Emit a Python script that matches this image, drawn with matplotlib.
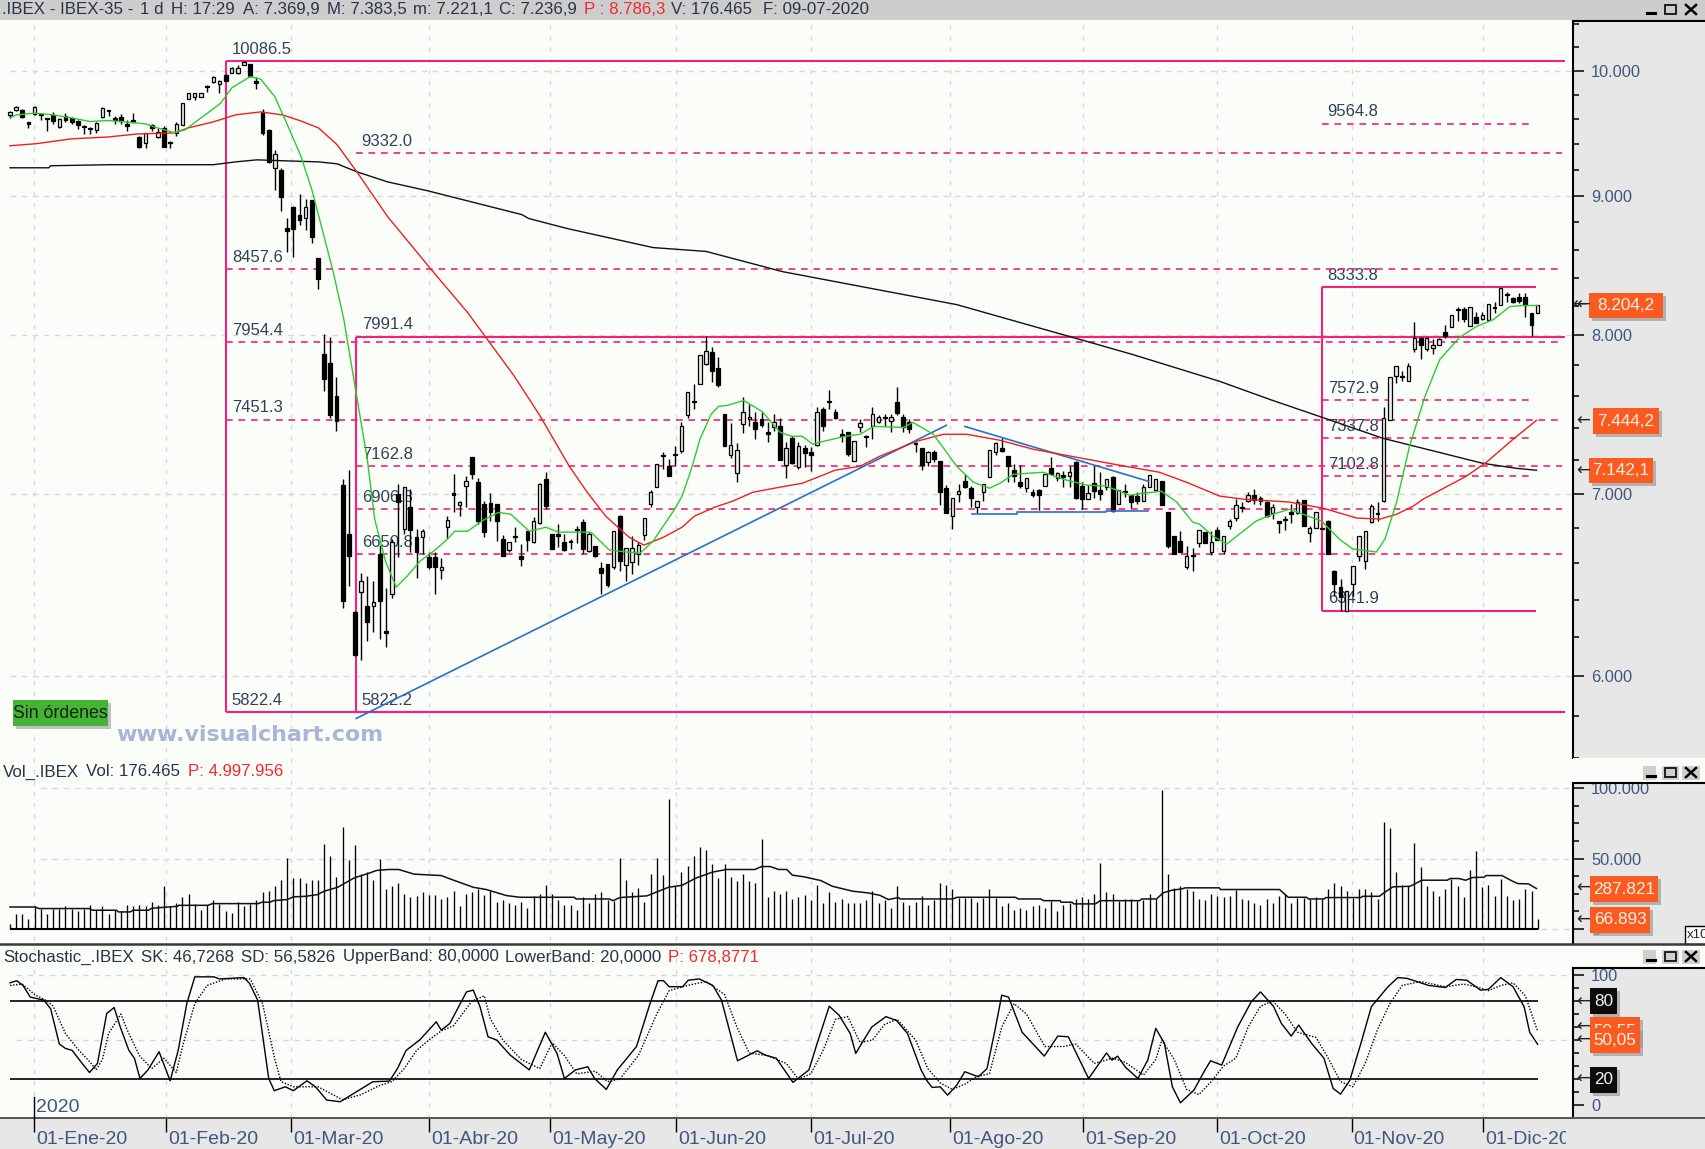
import matplotlib
matplotlib.use('Agg')
import matplotlib.pyplot as plt
from matplotlib.patches import Rectangle
from matplotlib.ticker import NullFormatter

plt.rcParams['font.family'] = ['Liberation Sans', 'DejaVu Sans']

W, H = 1706, 1149

# daily candles
opens = [
    9635,9676,9676,9575,9644,9644,9611,9636,9538,9627,
    9611,9587,9546,9530,9514,9619,9676,9611,9619,9563,
    9595,9458,9411,9555,9458,9530,9419,9490,9555,9767,
    9783,9783,9874,9908,9891,9966,9983,9983,10051,10059,
    9916,9660,9514,9215,9199,8761,8918,8858,8835,8970,
    8536,7878,7818,7598,7050,6765,6335,6442,6366,6366,
    6652,6233,6431,6996,6793,6920,6747,6747,6635,6635,
    6562,6804,7002,6932,7044,7218,7067,6938,6943,6938,
    6736,6674,6753,6640,6781,6719,6828,7085,6765,6765,
    6719,6725,6793,6833,6669,6697,6574,6596,6579,6868,
    6590,6607,6652,6759,6938,7038,7230,7163,7236,7255,
    7477,7566,7675,7812,7885,7780,7484,7230,7121,7421,
    7452,7433,7452,7372,7402,7408,7169,7334,7157,7273,
    7248,7291,7521,7566,7496,7359,7372,7194,7402,7347,
    7408,7433,7470,7440,7560,7470,7433,7304,7273,7188,
    7248,7194,7032,6868,6996,7073,7032,6920,7008,7097,
    7248,7273,7224,7139,7067,7032,7008,7020,7044,7151,
    7091,7109,7103,7188,7044,6967,7061,7020,7038,7097,
    6938,7014,6990,6985,6955,7038,7020,7073,6890,6753,
    6725,6579,6646,6713,6776,6663,6787,6669,6810,6857,
    6920,6955,6990,6973,6950,6885,6840,6851,6890,6885,
    6961,6770,6799,6799,6840,6557,6469,6340,6485,6640,
    6613,6833,6885,6955,7446,7733,7727,7695,7905,7985,
    7905,7912,7938,8025,8059,8183,8183,8066,8127,8114,
    8107,8197,8204,8287,8259,8266,8266,8155,8155]
highs = [
    9668,9709,9684,9579,9709,9644,9611,9660,9611,9652,
    9619,9595,9555,9538,9579,9700,9676,9627,9644,9595,
    9652,9466,9490,9563,9530,9546,9427,9579,9734,9816,
    9816,9816,9883,9958,9924,9975,10033,10050,10088,10059,
    9950,9684,9522,9355,9215,8829,8925,9015,8978,8970,
    8543,8006,7989,7721,7085,7140,6340,6546,6530,6502,
    6702,6463,6736,7055,7038,7026,6793,6793,6663,6663,
    6630,6868,7115,6955,7103,7218,7091,6955,7002,6938,
    6759,6719,6804,6708,6781,6862,7061,7127,6765,6822,
    6765,6736,6810,6851,6776,6697,6607,6596,6781,6874,
    6686,6753,6719,6857,7020,7175,7248,7206,7285,7433,
    7624,7675,7871,7995,7925,7858,7484,7427,7304,7592,
    7547,7496,7502,7433,7484,7458,7310,7347,7310,7291,
    7279,7528,7528,7637,7515,7390,7372,7316,7452,7353,
    7528,7477,7484,7484,7656,7484,7452,7310,7273,7255,
    7261,7194,7050,6973,7055,7115,7044,6955,7055,7261,
    7310,7334,7224,7175,7169,7091,7026,7026,7115,7218,
    7127,7133,7163,7194,7067,7050,7163,7127,7085,7103,
    7020,7055,6990,7008,7055,7109,7085,7073,6890,6753,
    6781,6697,6686,6787,6776,6781,6804,6753,6851,6967,
    6950,7008,7026,6985,6955,6938,6840,6868,6938,6967,
    6961,6810,6890,6799,6845,6562,6513,6447,6585,6753,
    6781,6938,6950,7528,7721,7793,7760,7818,8093,7992,
    7992,7972,7985,8073,8141,8197,8197,8197,8162,8162,
    8217,8231,8329,8301,8266,8294,8294,8155,8204]
lows = [
    9611,9668,9611,9530,9636,9595,9506,9563,9530,9579,
    9563,9522,9482,9482,9490,9611,9627,9563,9563,9506,
    9579,9372,9372,9506,9450,9380,9372,9466,9555,9767,
    9760,9783,9825,9900,9816,9916,9983,9975,10051,9950,
    9849,9474,9253,9046,8888,8585,8550,8783,8746,8651,
    8322,7630,7464,7378,6355,6475,6105,6082,6180,6228,
    6192,6150,6410,6635,6765,6663,6518,6652,6568,6431,
    6513,6736,6890,6868,6920,7085,6822,6747,6840,6725,
    6640,6663,6719,6585,6669,6713,6822,6908,6680,6691,
    6669,6680,6713,6652,6663,6635,6431,6469,6568,6557,
    6502,6540,6590,6730,6920,7038,7145,7103,7163,7243,
    7458,7521,7675,7805,7689,7656,7285,7212,7067,7365,
    7408,7328,7402,7310,7378,7200,7091,7175,7145,7157,
    7133,7285,7378,7521,7452,7310,7224,7194,7372,7279,
    7328,7427,7408,7372,7477,7372,7365,7248,7139,7163,
    7188,6932,6885,6793,6950,7032,6920,6885,6955,7097,
    7230,7248,7067,7067,7032,7008,6979,6902,7044,7109,
    7073,7038,7038,6967,6908,6967,6973,6961,7020,6890,
    6938,6979,6914,6938,6955,7038,7020,6932,6686,6652,
    6663,6568,6557,6691,6713,6646,6730,6652,6793,6840,
    6890,6950,6938,6932,6862,6851,6770,6787,6828,6879,
    6810,6719,6799,6793,6652,6420,6340,6340,6420,6613,
    6568,6828,6840,6950,7446,7682,7695,7695,7885,7845,
    7898,7878,7932,7985,8059,8100,8093,8066,8086,8107,
    8107,8155,8204,8231,8224,8224,8127,7998,8155]
closes = [
    9660,9700,9619,9563,9700,9636,9603,9587,9603,9595,
    9579,9555,9538,9522,9571,9692,9668,9595,9587,9546,
    9579,9380,9490,9530,9498,9380,9411,9563,9734,9816,
    9816,9816,9866,9950,9916,9916,10025,10025,10076,9958,
    9900,9490,9261,9324,8992,8738,8753,8820,8918,8695,
    8392,7708,7477,7440,6393,6640,6110,6502,6280,6388,
    6393,6223,6719,6950,7038,6787,6663,6781,6579,6579,
    6579,6845,6990,6950,7073,7115,6840,6776,6890,6840,
    6640,6719,6747,6624,6730,6840,7055,6926,6680,6753,
    6674,6719,6787,6680,6765,6640,6546,6480,6781,6613,
    6686,6686,6702,6857,7008,7175,7224,7103,7230,7408,
    7624,7560,7871,7898,7760,7669,7285,7291,7261,7496,
    7470,7390,7415,7359,7433,7200,7273,7181,7285,7243,
    7230,7496,7408,7560,7458,7347,7236,7316,7427,7341,
    7484,7470,7464,7470,7490,7402,7390,7298,7169,7248,
    7206,7008,6885,6973,7014,7038,6973,6955,7055,7261,
    7304,7255,7163,7103,7044,7091,6990,6990,7115,7115,
    7121,7097,7127,6973,6967,7002,7014,6996,7085,6896,
    7020,7008,6950,6955,7038,7109,7085,6932,6697,6652,
    6663,6640,6640,6787,6713,6719,6730,6753,6840,6932,
    6914,6990,6961,6955,6868,6920,6828,6845,6879,6950,
    6810,6799,6890,6793,6652,6485,6415,6447,6585,6753,
    6781,6926,6879,7458,7721,7793,7721,7793,7985,7938,
    7985,7932,7978,7998,8141,8176,8114,8197,8086,8141,
    8217,8190,8329,8280,8231,8238,8204,8073,8204]

# moving averages, read as (bar, price) points
green_x = [0,1,4,7,10,13,16,19,22,24,26.6,28.4,31.3,34.2,36,39,40.7,43,45.4,47.2,49,50.7,52.5,54.2,
           56.2,58,59.2,61,62.7,64.5,66.6,69,71,72.2,74.3,76.6,79.3,81.3,84.3,87,89,94.3,97.3,100.2,102.3,104.4,
           107.9,109.1,110.6,112,113.8,115,116.5,119.1,122.1,125,126.8,128.6,130.3,132.1,135.7,138,140.2,145,146.6,149.9,
           153.7,156.4,159,160.7,162.9,167.7,171,174.8,178,181.8,184,186.9,189.4,192,193.1,195.3,197.5,200,202.3,205,
           207.7,209.9,212.9,215.8,218,221.8,223.2,225.1,227.2,229.7,232.1,235.3,238,240.8,243.5,245.6,248]
green_y = [9611,9635,9650,9636,9611,9582,9590,9577,9563,9530,9493,9514,9622,9731,9858,9952,9930,9785,9514,9309,9046,8746,8435,8107,
           7618,7206,6851,6607,6469,6530,6613,6674,6736,6781,6781,6840,6890,6879,6781,6804,6776,6776,6674,6663,6657,6725,
           6908,6985,7145,7328,7484,7534,7541,7572,7502,7372,7347,7347,7298,7316,7347,7359,7408,7402,7433,7359,
           7163,7067,7032,7061,7115,7127,7085,7050,7044,6990,7002,7014,6950,6833,6822,6753,6708,6776,6840,6879,
           6908,6879,6840,6736,6680,6663,6736,6950,7285,7598,7838,7985,8059,8107,8197,8204,8204]
red_x = [0,4.2,10,16,20.7,26.6,28.9,33,36.6,40.7,44.2,47.2,50.1,53.1,56.3,61.3,68.4,74.3,81.9,86,90.8,93.7,96.7,100.5,102.9,
         106.1,109.1,111.1,114.4,117.3,120.6,125,128.6,131.5,133.9,138,141.2,147.2,151.5,155.3,160.7,166.1,173.1,180.2,186.6,
         191,196.4,200.2,207.7,213.2,218.6,222.4,225.1,227.8,229.4,236.4,239.7,244,247.8]
red_y = [9388,9404,9443,9458,9482,9490,9530,9579,9636,9660,9636,9587,9530,9396,9184,8843,8456,8155,7727,7477,7163,7008,6868,6747,6702,
         6747,6804,6868,6920,6955,7008,7038,7061,7103,7139,7163,7224,7316,7359,7359,7322,7267,7218,7169,7127,
         7067,6985,6967,6950,6914,6857,6851,6879,6926,6967,7103,7188,7328,7446]
black_x = [0,6.3,6.6,16.3,33,36.6,40.1,44.8,50.1,53.1,56.3,61.3,67.8,74.8,83.1,84.2,90.6,104.4,113,125.5,153.7,173.7,182.3,
           196.4,204.5,213.1,222.9,239.1,244.5,247.8]
black_y = [9215,9215,9231,9239,9239,9261,9277,9269,9261,9246,9184,9106,9038,8955,8858,8829,8753,8615,8587,8441,8210,7972,7871,
           7695,7579,7464,7334,7181,7151,7139]

# drawn levels, pink boxes and blue trend lines
box_left_a, box_left_b, box_left_c = 35.1, 56.2, 213.0
level_end, box_c_end, dash_c_end = 252.4, 247.8, 246.9
top_level, bottom_level = 10086.5, 5822.4
box_b_top, box_b_bottom = 7991.4, 5822.2
box_c_top, box_c_bottom = 8333.8, 6341.9
levels_a = [8457.6, 7954.4, 7451.3]
levels_b = [9332.0, 7162.8, 6906.8, 6650.8]
levels_c = [9564.8, 7572.9, 7337.8, 7102.8]
trend_x = [56.2, 152]
trend_y = [5790, 7415]
resist_x = [155, 184.8]
resist_y = [7408, 7073]
support_x = [156.2, 163.5, 163.5, 178, 178, 184.8]
support_y = [6879, 6879, 6890, 6890, 6900, 6900]

# volume per bar
volumes = [
    3800,10700,10700,7300,16100,14200,10700,14200,14200,16100,
    14200,13000,14200,17100,13300,16100,10700,13300,12600,17100,
    16100,17100,16100,19400,17100,30300,16100,18500,22800,24900,
    18000,13700,16800,20400,17800,12800,11600,19400,16100,17800,
    20400,26100,27300,30300,35100,50500,36300,36000,32700,35100,
    35100,60400,51700,37000,72500,48600,59300,39300,40500,35100,
    49300,28400,30300,32700,25100,22800,23700,26100,23900,23900,
    21600,22800,27300,16100,25100,26100,28700,23900,26800,19400,
    20600,18500,17300,19400,15200,
    23700,24900,31500,25100,20400,17300,17300,13700,22800,18500,
    25100,26100,20900,19700,50500,35100,26100,29200,19400,39300,
    50500,38400,92000,30300,40500,45000,51700,58300,55900,46200,
    36300,46000,37200,33900,39300,33900,32700,64000,22800,27300,
    25100,27300,21600,22800,23900,20600,31500,18500,26100,19400,
    21600,18500,18500,18500,20600,27300,18500,20400,15200,30300,
    19400,17300,19400,23700,17300,20900,32700,31500,28400,22000,
    22000,22000,19400,22000,28400,22000,16100,18200,13700,14900,
    13700,16100,17300,14900,
    19700,12800,17300,18500,21600,22800,21600,24900,46900,26100,
    24900,19700,21300,21300,19700,20900,24900,21300,98400,39300,
    29200,30300,28400,27300,21600,20400,24900,23700,22800,23700,
    28000,21600,20400,18500,17300,21600,18500,23700,25100,18500,
    22000,22000,21300,22800,21300,28400,32700,30300,27300,22000,
    28400,28400,26100,21600,76100,71800,40500,31500,30300,60700,
    43800,30300,27300,23700,28400,35600,30300,22800,41500,55000,
    29600,31500,23700,35600,23700,20600,21600,28400,27300,7100]
vol_ma_x = [0,4.1,4.7,12.9,13.4,17.3,17.6,19.5,20,22.5,23,27.2,27.4,32.1,32.9,40.3,40.9,42.2,42.8,45,46,48,49.9,51,53.2,55.9,58.1,59.5,
            61.4,63.1,65.6,70,71.9,75.2,77.3,80.6,82.8,91.6,91.9,97.3,97.9,99,103.4,105.3,106.9,109.1,111.3,114,116.3,120.9,122,123.4,124.8,
            126.1,127,128.9,131.6,133.5,136.8,139.3,141.2,142.6,144.2,144.5,153,153.8,163.2,163.7,167.3,167.8,170.5,170.6,172.4,172.7,176.2,177,
            183.4,183.7,186.1,187.2,188.6,190.2,190.8,196.3,196.5,206.1,207.5,210.5,210.8,213.3,213.6,219.3,219.6,222.3,223.2,224.5,227.3,229.2,
            233.3,233.8,235.2,236.3,237.4,239.3,239.6,242.2,244,244.8,246.5,247.8]
vol_ma_y = [15600,15600,14500,14500,13300,13300,12100,12100,13300,13300,14700,16100,16800,16800,18000,18000,19000,19000,20100,20900,22800,23200,24400,26800,29600,36300,39300,41500,
            42200,42200,38900,37900,34800,29600,28000,23700,22500,22500,21300,21300,20100,22300,23500,26800,29600,31000,36000,40300,42200,42200,44300,44300,42200,
            42200,38200,37000,34400,30300,26800,25600,23900,20900,22300,21300,21300,22500,22500,21300,21300,20100,20100,19000,19000,17800,17800,20100,
            20100,21300,21300,25600,27500,28400,29200,29200,28000,28000,22500,22500,21300,21300,22300,22300,23200,23200,26100,29900,30300,34600,
            34600,35800,35800,34600,36500,36700,37900,37900,33700,32200,32000,28700]

# stochastic, read as (bar, value) points
sk_x = [0,1.1,2.1,3.3,5.5,6.6,8,9,10.1,11.3,12.9,14.2,15.7,16.9,17.9,19.3,20.2,21.1,22.4,24.2,26,27.3,28.7,30,33.1,34,38,38.9,40.2,42,42.9,44.7,46,48.2,49.6,51.4,53.6,
        56.7,58.9,61.6,62.9,64.3,66.5,69.2,70,71.4,74.1,75.2,76.3,77.6,79,81.2,84.3,86.9,88.8,90,91.8,93.8,94.9,96.8,98.6,101.7,103.9,105.2,106.1,107,109.2,110.1,111.9,
        114.1,115.5,118.1,121.3,122.6,124.4,125.7,127.1,129.7,131,133,134.6,136.4,137.3,138.6,139.9,142.2,143.9,145.7,147.9,148.8,149.7,151,152.2,153.7,155,157.2,158.6,
        159.9,161,162.1,164.3,167.9,170.1,171.8,175.1,178,178.9,179.8,181.1,183.1,184.7,186,187.4,188.7,190,192.2,194,194.9,196.7,199.3,201.5,203,205.1,206.4,208,209.2,
        211.3,213.3,214.8,216,217.5,219.3,221,223.7,225.3,226.8,230.3,233,234.8,236.5,238.7,240,242,244,245.8,246.7,248]
sk_y = [94,95.6,92,83,80.7,74,47,43.5,42,34.5,25,32,70.4,75,60,42,36,20.4,27,41,18.6,42,78,98.6,98.6,97,98,93.5,80.7,20.4,11,14,11,18.6,14,3.8,2.5,
        11.5,17.9,18.4,28,42,50,64,57.6,62.7,87,88.4,75.6,52.5,50,38.4,27,56,39.7,20.4,27,29.4,20.4,12,27,45,78,95.6,95.6,91,91,96,97,
        92,80.7,34,41.7,38.4,36,27,17.4,27,47,76,69,55,39.7,50,60,68,65,55,27,19,13.5,14,7.6,15.3,25.6,21.7,28,
        57.6,84.5,83,56,37.6,53,52.5,20.4,40,34.5,37.6,29,20.4,34.5,59,47.4,14,1.7,11.5,27,34,30.7,60,79.4,87,76,62.7,53,61.5,
        47.4,36,12.7,8.4,19,47.4,75.6,91,98,97.4,92,90.4,96.6,96,88.4,89,98,91,75.6,56,46.7]
sd_x = [0,2,4,6,7,9,11,13,14,15,16,18,19,21,23,25,27,28,30,32,35,39,41,43,44,46,48,50,52,54,57,60,62,64,66,68,70,72,75,77,78,80,83,86,88,90,92,95,97,99,102,105,107,110,113,116,118,120,
        123,126,128,130,132,134,136,138,140,142,144,147,149,151,153,155,157,159,161,163,165,168,171,173,176,179,181,184,186,187,189,191,193,195,197,199,201,203,205,207,209,212,214,216,218,
        220,222,224,226,229,233,236,238,240,242,244,246,248]
sd_y = [92,93,85,80,76,55,43,33,27,35,55,70,58,38,28,36,25,45,78,92,97,97,78,35,18,14,14,14,9,4,8,15,18,28,42,50,57,61,80,84,66,50,35,28,48,38,24,26,18,20,38,70,88,92,95,85,60,40,
        38,32,20,24,42,66,68,48,50,62,66,50,28,17,12,16,22,24,60,78,70,45,45,47,32,36,33,23,35,50,35,12,8,18,30,36,60,76,80,70,56,52,36,18,14,
        32,58,78,92,95,91,93,91,88,92,94,84,56.6]
band_upper, band_lower = 80, 20

# axis ticks
month_bars = [3.9, 25.3, 45.6, 68, 87.7, 108.1, 130, 152.6, 174.2, 196, 217.8, 239.1]
month_labels = ['01-Ene-20', '01-Feb-20', '01-Mar-20', '01-Abr-20', '01-May-20', '01-Jun-20',
                '01-Jul-20', '01-Ago-20', '01-Sep-20', '01-Oct-20', '01-Nov-20', '01-Dic-20']
price_ticks = [10000, 9000, 8000, 7000, 6000]
price_labels = ['10.000', '9.000', '8.000', '7.000', '6.000']
price_minor = [10400, 10200, 9800, 9600, 9400, 9200, 8800, 8600, 8400, 8200, 7800, 7600, 7400, 7200,
               6800, 6600, 6400, 6200, 5800, 5600]
vol_ticks = [100000, 50000, 0]
vol_labels = ['100.000', '50.000', '0']
vol_minor = [87500, 75000, 62500, 37500, 25000, 12500]
stoch_ticks = [100, 0]
stoch_minor = [90, 80, 70, 60, 50, 40, 30, 20, 10]

PLOT_BG = '#fbfdf9'
FRAME_BG = '#e7e7e7'
PINK = '#f5207c'
BLUE = '#2a70c8'
GRID = '#d6d8de'
LABEL = '#33405a'
AXIS_TXT = '#41557e'
HEAD = '#2a3346'
RED_TXT = '#f02a30'
ORANGE = '#fb5a20'

PX0, BAR = 10.0, 6.16


def bar_at(px):
    return (px - PX0) / BAR


def make_axes(x0, y0, x1, y1):
    a = fig.add_axes([x0 / W, 1 - y1 / H, (x1 - x0) / W, (y1 - y0) / H])
    a.patch.set_alpha(0)
    a.set_xlim(bar_at(x0), bar_at(x1))
    for s in a.spines.values():
        s.set_visible(False)
    return a


def right_axis(a, major, labels, minor, size=11.8):
    a.spines['right'].set_visible(True)
    a.spines['right'].set_linewidth(1.5)
    a.yaxis.tick_right()
    a.set_yticks(major, labels)
    a.set_yticks(minor, minor=True)
    a.yaxis.set_minor_formatter(NullFormatter())
    a.tick_params(axis='y', which='major', length=8, width=1.1, labelsize=size, labelcolor=AXIS_TXT, pad=5)
    a.tick_params(axis='y', which='minor', length=4, width=1.1)
    a.set_xticks([])


fig = plt.figure(figsize=(W / 100, H / 100), dpi=100, facecolor=FRAME_BG)

bg = make_axes(0, 20, 1573, 1118)
bg.patch.set_alpha(1)
bg.set_facecolor(PLOT_BG)
bg.set_ylim(0, 1)
bg.set_xticks([])
bg.set_yticks([])
bg.vlines(month_bars, 0, 1, color=GRID, lw=1.0, linestyles=(0, (3, 5)))

# price panel
ax = make_axes(0, 20, 1573, 758)
ax.set_yscale('log')
ax.set_ylim(5608, 10439)
right_axis(ax, price_ticks, price_labels, price_minor)
ax.hlines(price_ticks, 0, bar_at(1573), color=GRID, lw=1.0, linestyles=(0, (4, 4)), zorder=1)

for p, txt_x in [(top_level, box_left_a), (bottom_level, box_left_a), (box_b_bottom, box_left_b), (box_b_top, box_left_b)]:
    ax.hlines(p, txt_x, level_end, color=PINK, lw=1.5, zorder=2)
ax.vlines(box_left_a, bottom_level, top_level, color=PINK, lw=1.5, zorder=2)
ax.vlines(box_left_b, box_b_bottom, box_b_top, color=PINK, lw=1.5, zorder=2)
ax.vlines(box_left_c, box_c_bottom, box_c_top, color=PINK, lw=1.5, zorder=2)
ax.hlines([box_c_top, box_c_bottom], box_left_c, box_c_end, color=PINK, lw=1.5, zorder=2)
dash = (0, (4, 3.5))
ax.hlines(levels_a, box_left_a, level_end - 0.5, color=PINK, lw=1.2, linestyles=dash, zorder=2)
ax.hlines(levels_b, box_left_b, level_end - 0.5, color=PINK, lw=1.2, linestyles=dash, zorder=2)
ax.hlines(levels_c, box_left_c, dash_c_end, color=PINK, lw=1.2, linestyles=dash, zorder=2)

for x_left, vals in [(box_left_a, [top_level] + levels_a + [bottom_level]),
                     (box_left_b, levels_b + [box_b_top, box_b_bottom]),
                     (box_left_c, levels_c + [box_c_top, box_c_bottom])]:
    for v in vals:
        ax.annotate('%.1f' % v, (x_left, v), xytext=(4, 3), textcoords='offset points',
                    fontsize=12, color=LABEL, va='bottom', ha='left', zorder=1.5)

xs = list(range(len(opens)))
ax.vlines(xs, lows, highs, color='black', lw=1.0, zorder=3)
up = [i for i in xs if closes[i] >= opens[i]]
down = [i for i in xs if closes[i] < opens[i]]
ax.bar(up, [closes[i] - opens[i] for i in up], bottom=[opens[i] for i in up], width=0.55,
       color='#ebebeb', edgecolor='black', lw=0.9, zorder=3.1)
ax.bar(down, [opens[i] - closes[i] for i in down], bottom=[closes[i] for i in down], width=0.62,
       color='black', edgecolor='black', lw=0.9, zorder=3.1)

ax.plot(trend_x, trend_y, color=BLUE, lw=1.2, zorder=3.5)
ax.plot(resist_x, resist_y, color=BLUE, lw=1.2, zorder=3.5)
ax.plot(support_x, support_y, color=BLUE, lw=1.2, zorder=3.5)
ax.plot(black_x, black_y, color='#111111', lw=1.0, zorder=4)
ax.plot(red_x, red_y, color='#f01f1f', lw=1.0, zorder=4)
ax.plot(green_x, green_y, color='#2ccb33', lw=1.0, zorder=4)

# volume panel
vol = make_axes(0, 783, 1573, 944)
vol.set_ylim(-10638, 103546)
right_axis(vol, vol_ticks, vol_labels, vol_minor)
vol.hlines(vol_ticks, 5, bar_at(1573), color=GRID, lw=1.0, linestyles=(0, (4, 4)), zorder=1)
vol.vlines(xs, 0, volumes, color='black', lw=0.95, zorder=3)
vol.hlines(0, 0, xs[-1], color='black', lw=1.5, zorder=3)
vol.plot(vol_ma_x, vol_ma_y, color='#111111', lw=1.1, zorder=4)

# stochastic panel
sto = make_axes(0, 968, 1573, 1118)
sto.set_ylim(-10, 105.4)
right_axis(sto, stoch_ticks, ['100', '0'], stoch_minor)
sto.hlines([100, 50], 1, bar_at(1573), color=GRID, lw=1.0, linestyles=(0, (4, 4)), zorder=1)
sto.hlines([band_upper, band_lower], 0, xs[-1], color='black', lw=1.2, zorder=3)
sto.plot(sk_x, sk_y, color='black', lw=1.0, zorder=4)
sto.plot(sd_x, sd_y, color='black', lw=1.0, ls=(0, (1, 1.2)), zorder=4)

# month strip
strip = make_axes(0, 1118, 1566, 1149)
strip.set_ylim(31, 0)
strip.set_xticks([])
strip.set_yticks([])
strip.vlines(month_bars, 0, 14, color='black', lw=1.0)
for m, lab in zip(month_bars, month_labels):
    strip.annotate(lab, (m, 22), xytext=(1.5, 0), textcoords='offset points', fontsize=14,
                   color=AXIS_TXT, va='center', ha='left', annotation_clip=False, clip_on=True)

# frame, headers and value tags, placed in screen pixels
ch = fig.add_axes([0, 0, 1, 1], zorder=10)
ch.patch.set_alpha(0)
ch.set_xlim(0, W)
ch.set_ylim(H, 0)
ch.axis('off')

tag_z = [20]


def tag(x0, y0, x1, y1, text, color=ORANGE, tcolor='#fff3e6', arrow_y=None):
    z = tag_z[0]
    tag_z[0] += 1
    ch.add_patch(Rectangle((x0 + 3, y0 + 3), x1 - x0, y1 - y0, color='#9a9a9a', alpha=0.7, lw=0, zorder=z))
    ch.add_patch(Rectangle((x0, y0), x1 - x0, y1 - y0, color=color, lw=0, zorder=z + 0.2))
    ch.text((x0 + x1) / 2, (y0 + y1) / 2, text, color=tcolor, fontsize=12.3, ha='center', va='center', zorder=z + 0.4)
    if arrow_y is not None:
        ch.text(1583, arrow_y, '\u2190', fontsize=12, color='#222222', ha='center', va='center',
                family='DejaVu Sans', zorder=z + 0.4)


def buttons(yc, boxed=True):
    if boxed:
        ch.add_patch(Rectangle((1643, yc - 7), 13, 14, color='#cfcfcf', lw=0))
        ch.add_patch(Rectangle((1662, yc - 7), 17, 14, color='#cfcfcf', lw=0))
        ch.add_patch(Rectangle((1682, yc - 7), 18, 14, color='#cfcfcf', lw=0))
    ch.plot([1647, 1655], [yc + 3, yc + 3], color='black', lw=2.2)
    ch.add_patch(Rectangle((1665, yc - 5), 11, 9, fill=False, ec='black', lw=1.2))
    ch.plot([1686, 1696], [yc - 5, yc + 4], color='black', lw=1.8)
    ch.plot([1686, 1696], [yc + 4, yc - 5], color='black', lw=1.8)


def header(yc, pieces, size=12.2, color=HEAD):
    for x, txt in pieces:
        ch.text(x, yc, txt, fontsize=size, color=color, va='center')


# top bar
ch.add_patch(Rectangle((0, 0), W, 20, color='#cdcdcd', lw=0))
header(9, [(2, '.IBEX - IBEX-35 -'), (140, '1 d'), (171, 'H: 17:29'), (243, 'A: 7.369,9'), (327, 'M: 7.383,5'),
           (413, 'm: 7.221,1'), (499, 'C: 7.236,9'), (671, 'V: 176.465'), (763, 'F: 09-07-2020')])
header(9, [(584, 'P : 8.786,3')], color=RED_TXT)
ch.plot([1573, W], [20.5, 20.5], color='black', lw=1.5)
buttons(10, boxed=False)

# header rows between panels
ch.add_patch(Rectangle((1573, 758), W - 1573, 25, color=PLOT_BG, lw=0))
ch.add_patch(Rectangle((1573, 944), W - 1573, 24, color=PLOT_BG, lw=0))
ch.plot([1573, W], [783, 783], color='black', lw=1.5)
ch.plot([1573, W], [968, 968], color='black', lw=1.5)
ch.plot([0, W], [944, 944], color='#3a3a3a', lw=1.8)
ch.plot([0, W], [1118, 1118], color='#555555', lw=1.4)
buttons(773)
buttons(957)

header(772, [(3, 'Vol_.IBEX'), (86, 'Vol: 176.465')])
header(772, [(188, 'P: 4.997.956')], color=RED_TXT)
header(957, [(3, 'Stochastic_.IBEX'), (141, 'SK: 46,7268'), (241, 'SD: 56,5826'),
             (343, 'UpperBand: 80,0000'), (505, 'LowerBand: 20,0000')])
header(957, [(668, 'P: 678,8771')], color=RED_TXT)

# green order tag and watermark
ch.add_patch(Rectangle((16, 703), 95, 26, color='#a8a8a8', alpha=0.7, lw=0))
ch.add_patch(Rectangle((13, 700), 95, 26, color='#46b336', lw=0))
ch.text(60, 713, 'Sin \u00f3rdenes', fontsize=12.8, color='#10240c', ha='center', va='center')
ch.text(116, 735, 'www.visualchart.com', fontsize=15.9, fontweight='bold', color='#aab4d6',
        family='DejaVu Sans', va='center')

# 2020 marker
ch.plot([34, 34], [1097, 1118], color='black', lw=1.0)
ch.text(36, 1107, '2020', fontsize=14, color=AXIS_TXT, va='center')

# x10 box
ch.add_patch(Rectangle((1685, 926), 21, 18, fc='white', ec='black', lw=1))
ch.text(1687, 935, 'x10', fontsize=9.5, color='#222222', va='center', clip_on=True)

tag(1589, 293, 1663, 318, '8.204,2', arrow_y=305)
ch.text(1579, 305, '\u2190', fontsize=12, color='#222222', ha='center', va='center', family='DejaVu Sans')
tag(1593, 408, 1659, 434, '7.444,2', arrow_y=421)
tag(1589, 458, 1653, 483, '7.142,1', arrow_y=471)
tag(1590, 876, 1658, 902, '287.821', arrow_y=888)
tag(1590, 907, 1650, 933, '66.893', arrow_y=920)
tag(1590, 988, 1617, 1014, '80', color='#0c0c0c', tcolor='#f4f4f4', arrow_y=1002)
tag(1590, 1017, 1640, 1045, '50,55', arrow_y=1027)
tag(1590, 1028, 1640, 1053, '50,05', arrow_y=1040)
tag(1590, 1067, 1617, 1093, '20', color='#0c0c0c', tcolor='#f4f4f4', arrow_y=1079)

fig.savefig('out.png', dpi=100, facecolor=fig.get_facecolor())
